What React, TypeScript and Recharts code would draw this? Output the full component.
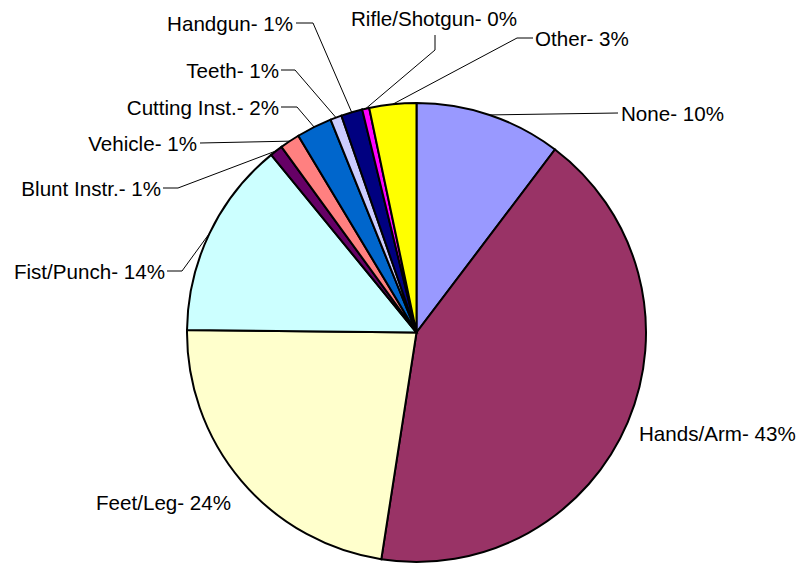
import React from 'react';
import { PieChart, Pie, Cell } from 'recharts';

const categories = ['None', 'Hands/Arm', 'Feet/Leg', 'Fist/Punch', 'Blunt Instr.', 'Vehicle', 'Cutting Inst.', 'Teeth', 'Handgun', 'Rifle/Shotgun', 'Other'];
const values = [10.3, 42.1, 22.7, 13.9, 0.9, 1.4, 2.5, 0.8, 1.5, 0.5, 3.3];
const labelPercents = ['10%', '43%', '24%', '14%', '1%', '1%', '2%', '1%', '1%', '0%', '3%'];
const colors = ['#9999FF', '#993366', '#FFFFCC', '#CCFFFF', '#660066', '#FF8080', '#0066CC', '#CCCCFF', '#000080', '#FF00FF', '#FFFF00'];

const data = categories.map((name, i) => ({ name, value: values[i], pct: labelPercents[i] }));

type Pt = [number, number];
interface LabelLayout { x: number; y: number; anchor: 'start' | 'end' | 'middle'; line: Pt[] | null }

const labelLayout: LabelLayout[] = [
  { x: 621, y: 113, anchor: 'start', line: [[618, 113]] },
  { x: 639, y: 433, anchor: 'start', line: null },
  { x: 96, y: 502, anchor: 'start', line: null },
  { x: 165, y: 271, anchor: 'end', line: [[182, 271], [167, 271]] },
  { x: 161, y: 188, anchor: 'end', line: [[178, 188], [163, 188]] },
  { x: 197, y: 143, anchor: 'end', line: [[200, 143]] },
  { x: 279, y: 107, anchor: 'end', line: [[297, 107], [281, 107]] },
  { x: 279, y: 70, anchor: 'end', line: [[295, 70], [281, 70]] },
  { x: 293, y: 23, anchor: 'end', line: [[313, 23], [296, 23]] },
  { x: 434, y: 18, anchor: 'middle', line: [[435, 50], [435, 35]] },
  { x: 535, y: 38, anchor: 'start', line: [[517, 38], [533, 38]] },
];

const RADIAN = Math.PI / 180;

const renderLabel = (props: any) => {
  const { cx, cy, midAngle, outerRadius, index } = props;
  const layout = labelLayout[index];
  const d = data[index];
  const ex = cx + outerRadius * Math.cos(-midAngle * RADIAN);
  const ey = cy + outerRadius * Math.sin(-midAngle * RADIAN);
  let path = '';
  if (layout.line) {
    path = `M${ex},${ey}` + layout.line.map((p) => ` L${p[0]},${p[1]}`).join('');
  }
  return (
    <g key={`lbl-${index}`}>
      {path && <path d={path} stroke="#000" strokeWidth={1} fill="none" />}
      <text
        x={layout.x}
        y={layout.y}
        textAnchor={layout.anchor}
        dominantBaseline="central"
        fill="#000"
        fontSize={20.6}
        fontFamily="'Liberation Sans', Arial, sans-serif"
      >
        {`${d.name}- ${d.pct}`}
      </text>
    </g>
  );
};

export default function App() {
  return (
    <div style={{ position: 'absolute', left: 0, top: 0, width: 800, height: 565, background: '#fff' }}>
      <PieChart width={800} height={565} margin={{ top: 0, right: 0, bottom: 0, left: 0 }}>
        <Pie
          data={data}
          dataKey="value"
          nameKey="name"
          cx={416.5}
          cy={332.5}
          outerRadius={229.5}
          startAngle={90}
          endAngle={-270}
          stroke="#000"
          strokeWidth={2}
          label={renderLabel}
          labelLine={false}
          isAnimationActive={false}
        >
          {data.map((d, i) => (
            <Cell key={d.name} fill={colors[i]} stroke="#000" strokeWidth={2} />
          ))}
        </Pie>
      </PieChart>
    </div>
  );
}
